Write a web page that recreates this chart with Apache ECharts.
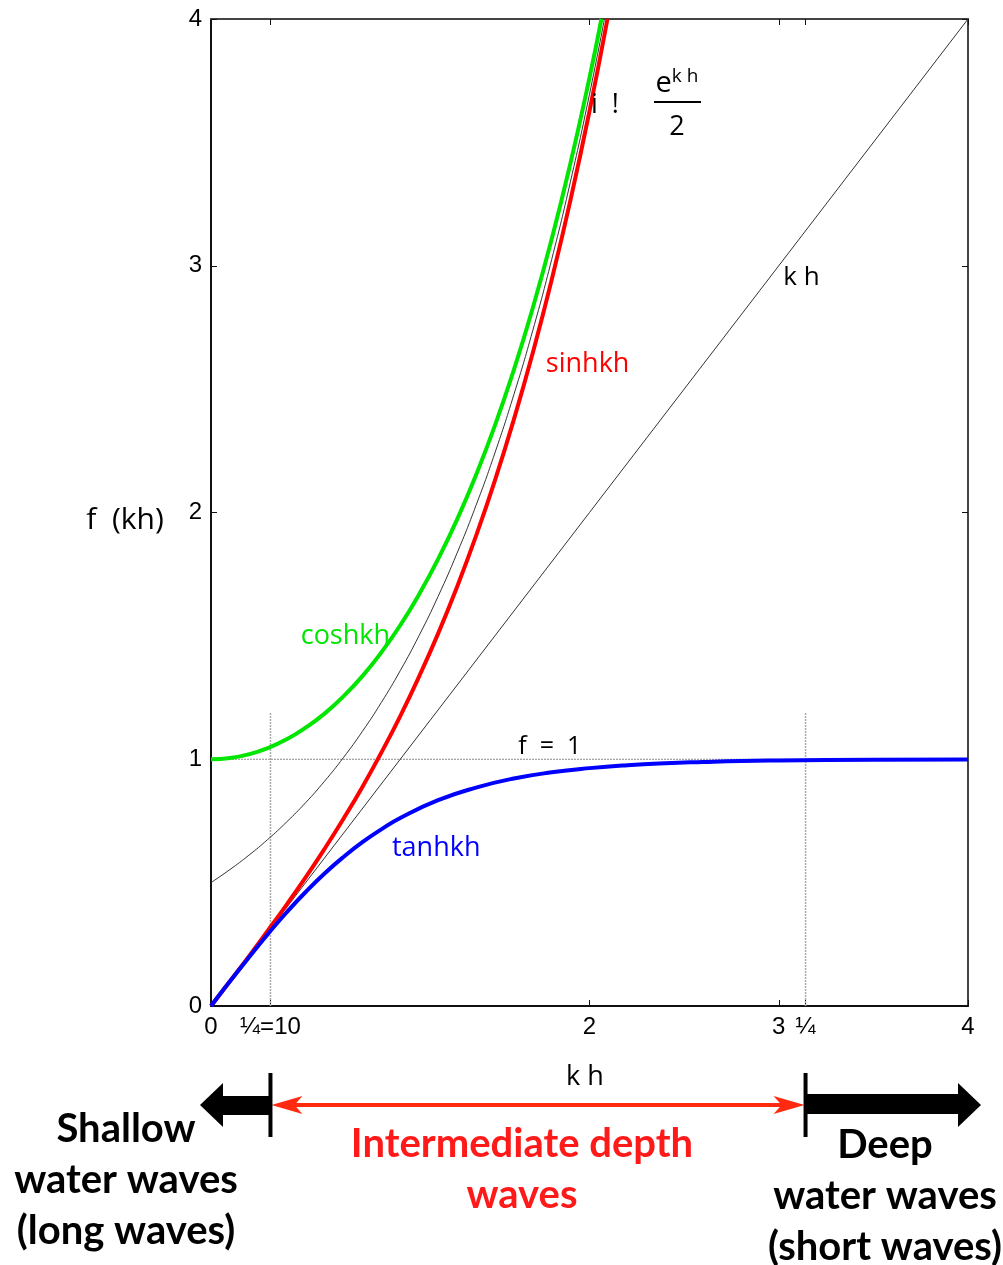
<!DOCTYPE html>
<html>
<head>
<meta charset="utf-8">
<script src="https://cdn.jsdelivr.net/npm/echarts@6/dist/echarts.min.js"></script>
<style>
  html, body { margin: 0; padding: 0; background: #fff; }
  #chart { width: 1003px; height: 1265px; }
</style>
</head>
<body>
<div id="chart"></div>
<script>
// valores
var khCurvas = [0, 0.1, 0.2, 0.3, 0.4, 0.5, 0.6, 0.7, 0.8, 0.9, 1.0, 1.1, 1.2, 1.3, 1.4, 1.5, 1.6, 1.7, 1.8, 1.9, 2.0];
var valoresCosh = [1.000, 1.005, 1.020, 1.045, 1.081, 1.128, 1.185, 1.255, 1.337, 1.433, 1.543, 1.669, 1.811, 1.971, 2.151, 2.352, 2.577, 2.828, 3.107, 3.418, 3.762];
var valoresSinh = [0.000, 0.100, 0.201, 0.305, 0.411, 0.521, 0.637, 0.759, 0.888, 1.027, 1.175, 1.336, 1.509, 1.698, 1.904, 2.129, 2.376, 2.646, 2.942, 3.268, 3.627];
var valoresExp = [0.500, 0.553, 0.611, 0.675, 0.746, 0.824, 0.911, 1.007, 1.113, 1.230, 1.359, 1.502, 1.660, 1.835, 2.028, 2.241, 2.477, 2.737, 3.025, 3.343, 3.695];
var fimCosh = [2.063, 4.0];
var fimSinh = [2.095, 4.0];
var fimExp = [2.079, 4.0];

var khTanh = [0, 0.1, 0.2, 0.3, 0.4, 0.5, 0.6, 0.7, 0.8, 0.9, 1.0, 1.2, 1.4, 1.6, 1.8, 2.0, 2.2, 2.4, 2.6, 2.8, 3.0, 3.5, 4.0];
var valoresTanh = [0.000, 0.100, 0.197, 0.291, 0.380, 0.462, 0.537, 0.604, 0.664, 0.716, 0.762, 0.834, 0.885, 0.922, 0.947, 0.964, 0.976, 0.984, 0.989, 0.993, 0.995, 0.998, 0.999];

var retaKh = [[0, 0], [4, 4]];
var retaF1 = [[0, 1], [4, 1]];
var piSobre10 = 0.3142;
var piValor = 3.1416;
var alturaGuia = 1.19;

var ticksX = [0, piSobre10, 2, 3, piValor, 4];
var rotulosX = ['0', '¼=10', '2', '3', '¼', '4'];

function montarPares(xs, ys, fim) {
    var pares = [];
    for (var i = 0; i < xs.length; i++) pares.push([xs[i], ys[i]]);
    if (fim) pares.push(fim);
    return pares;
}

var grafico = echarts.init(document.getElementById('chart'));

var fonteTick = { fontFamily: 'Liberation Sans', fontSize: 24, color: '#000' };

var option = {
    animation: false,
    backgroundColor: '#fff',
    grid: { left: 211, right: 35, top: 19, bottom: 259 },
    xAxis: [{
        type: 'value', min: 0, max: 4,
        axisLine: { lineStyle: { color: '#111', width: 2 } },
        axisTick: { inside: true, length: 6, customValues: ticksX, lineStyle: { color: '#111' } },
        axisLabel: Object.assign({
            margin: 9,
            customValues: ticksX,
            formatter: function (v) {
                var i = ticksX.indexOf(v);
                return i >= 0 ? rotulosX[i] : '';
            }
        }, fonteTick),
        splitLine: { show: false }
    }, {
        type: 'value', min: 0, max: 4, position: 'top',
        axisLine: { show: true, onZero: false, lineStyle: { color: '#444', width: 2 } },
        axisTick: { inside: true, length: 6, customValues: ticksX, lineStyle: { color: '#111' } },
        axisLabel: { show: false },
        splitLine: { show: false }
    }],
    yAxis: [{
        type: 'value', min: 0, max: 4, interval: 1,
        axisLine: { show: true, lineStyle: { color: '#111', width: 2 } },
        axisTick: { inside: true, length: 6, lineStyle: { color: '#111' } },
        axisLabel: Object.assign({ margin: 9 }, fonteTick),
        splitLine: { show: false }
    }, {
        type: 'value', min: 0, max: 4, interval: 1, position: 'right',
        axisLine: { show: true, onZero: false, lineStyle: { color: '#444', width: 2 } },
        axisTick: { inside: true, length: 6, lineStyle: { color: '#111' } },
        axisLabel: { show: false },
        splitLine: { show: false }
    }],
    series: [
        {
            name: 'f=1', type: 'line', data: retaF1, symbol: 'none',
            lineStyle: { color: '#888', width: 1, type: [2, 1] }, z: 1
        },
        {
            name: 'guia1', type: 'line', data: [[piSobre10, 0], [piSobre10, alturaGuia]], symbol: 'none',
            lineStyle: { color: '#aaa', width: 1.5, type: [2, 1] }, z: 1
        },
        {
            name: 'guia2', type: 'line', data: [[piValor, 0], [piValor, alturaGuia]], symbol: 'none',
            lineStyle: { color: '#aaa', width: 1.5, type: [2, 1] }, z: 1
        },
        {
            name: 'kh', type: 'line', data: retaKh, symbol: 'none',
            lineStyle: { color: '#333', width: 1 }, z: 2
        },
        {
            name: 'exp', type: 'line', data: montarPares(khCurvas, valoresExp, fimExp), symbol: 'none',
            smooth: true, lineStyle: { color: '#333', width: 1 }, z: 2
        },
        {
            name: 'cosh', type: 'line', data: montarPares(khCurvas, valoresCosh, fimCosh), symbol: 'none',
            smooth: true, lineStyle: { color: '#00e600', width: 4 }, z: 3
        },
        {
            name: 'sinh', type: 'line', data: montarPares(khCurvas, valoresSinh, fimSinh), symbol: 'none',
            smooth: true, lineStyle: { color: '#ff0000', width: 4 }, z: 3
        },
        {
            name: 'tanh', type: 'line', data: montarPares(khTanh, valoresTanh), symbol: 'none',
            smooth: true, lineStyle: { color: '#0000ff', width: 4 }, z: 4
        }
    ]
};
grafico.setOption(option);

// anotações e setas abaixo do gráfico
var xa = grafico.convertToPixel({ xAxisIndex: 0 }, piSobre10);
var xb = grafico.convertToPixel({ xAxisIndex: 0 }, piValor);
function px(x, y) { return grafico.convertToPixel({ xAxisIndex: 0, yAxisIndex: 0 }, [x, y]); }

var yS = 1105;
var vermelho = '#ff2a10';
var fonteTexto = 'Lato, "Open Sans", sans-serif';
var fonteRotulo = '"Open Sans", sans-serif';

function texto(pos, str, cor, tam, extra) {
    return Object.assign({
        type: 'text', x: pos[0], y: pos[1], z: 10,
        style: { text: str, fill: cor, font: tam + 'px ' + fonteRotulo, align: 'center', verticalAlign: 'middle' }
    }, extra || {});
}

var pCosh = px(0.71, 1.5), pSinh = px(1.99, 2.6), pTanh = px(1.19, 0.64);
var pKh = px(3.12, 2.95), pF = px(1.79, 1.05);

var elementos = [
    texto(pCosh, 'coshkh', '#00e600', 27),
    texto(pSinh, 'sinhkh', '#ff0000', 27),
    texto(pTanh, 'tanhkh', '#0000ff', 27),
    texto(pKh, 'k h', '#000', 26),
    texto(pF, 'f  =  1', '#000', 25),
    texto([605, 105], 'i  !', '#000', 27),
    texto([677, 84], '', '#000', 26, {
        style: {
            text: '{e|e}{s|k h}', align: 'center', verticalAlign: 'middle',
            rich: {
                e: { font: '29px ' + fonteRotulo, fill: '#000' },
                s: { font: '19px ' + fonteRotulo, fill: '#000', verticalAlign: 'top', padding: [0, 0, 14, 0] }
            }
        }
    }),
    { type: 'line', z: 10, shape: { x1: 654, y1: 102, x2: 701, y2: 102 }, style: { stroke: '#000', lineWidth: 2 } },
    texto([677, 127], '2', '#000', 27),
    texto([125, 520], 'f  (kh)', '#000', 30),
    texto([585, 1077], 'k h', '#000', 27),

    // seta preta esquerda
    { type: 'rect', z: 10, shape: { x: 222, y: yS - 9, width: xa - 222, height: 19 }, style: { fill: '#000' } },
    { type: 'polygon', z: 10, shape: { points: [[200, yS], [223, yS - 22], [223, yS + 22]] }, style: { fill: '#000' } },
    // seta preta direita
    { type: 'rect', z: 10, shape: { x: xb, y: yS - 11, width: 958 - xb, height: 20 }, style: { fill: '#000' } },
    { type: 'polygon', z: 10, shape: { points: [[981, yS], [958, yS - 22], [958, yS + 22]] }, style: { fill: '#000' } },
    // barras verticais
    { type: 'rect', z: 11, shape: { x: xa - 2, y: 1073, width: 4, height: 64 }, style: { fill: '#000' } },
    { type: 'rect', z: 11, shape: { x: xb - 2, y: 1073, width: 4, height: 64 }, style: { fill: '#000' } },
    // seta vermelha dupla
    { type: 'line', z: 10, shape: { x1: xa + 10, y1: yS, x2: xb - 10, y2: yS }, style: { stroke: vermelho, lineWidth: 4 } },
    { type: 'polygon', z: 10, shape: { points: [[xa + 1, yS], [xa + 32, yS - 9], [xa + 24, yS], [xa + 32, yS + 9]] }, style: { fill: vermelho } },
    { type: 'polygon', z: 10, shape: { points: [[xb - 1, yS], [xb - 32, yS - 9], [xb - 24, yS], [xb - 32, yS + 9]] }, style: { fill: vermelho } }
];

function bloco(x, linhas, y0, cor) {
    for (var i = 0; i < linhas.length; i++) {
        elementos.push({
            type: 'text', x: x, y: y0 + i * 51, z: 10,
            style: { text: linhas[i], fill: cor, font: 'bold 40px ' + fonteTexto, align: 'center', verticalAlign: 'middle' }
        });
    }
}
bloco(126, ['Shallow', 'water waves', '(long waves)'], 1129, '#000');
bloco(522, ['Intermediate depth', 'waves'], 1144, '#ff1a1a');
bloco(885, ['Deep', 'water waves', '(short waves)'], 1145, '#000');

grafico.setOption({ graphic: elementos });
</script>
</body>
</html>
